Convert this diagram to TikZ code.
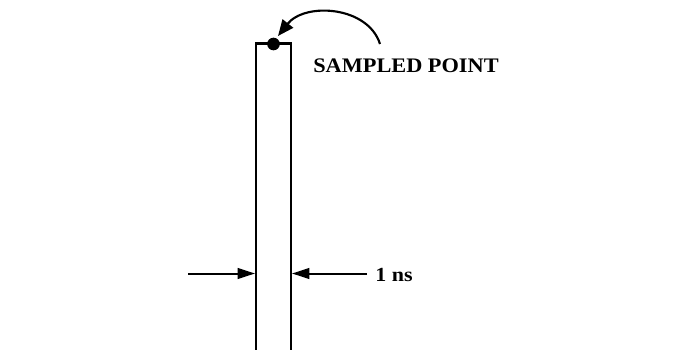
\documentclass[tikz,border=0pt]{standalone}
\usepackage{fontspec}
\setmainfont{Liberation Serif}
\usetikzlibrary{arrows.meta}
\begin{document}
\begin{tikzpicture}[x=0.75pt,y=-0.75pt,
  wire/.style={line width=1.7pt},
  dimarrow/.style={line width=1.5pt,-{Triangle[length=13pt,width=8pt]}},
  lbl/.style={inner sep=0pt,anchor=west,font=\bfseries}]
\useasboundingbox (0,0) rectangle (683,350);
\coordinate (bl) at (256,350);
\coordinate (tl) at (256,43.5);
\coordinate (tr) at (291,43.5);
\coordinate (br) at (291,350);
\draw[wire] (bl) -- (tl) -- (tr) -- (br);
\node[circle,fill=black,inner sep=0pt,minimum size=9.5pt] (dot) at (273.5,44) {};
\node[lbl] (sp) at (313,66) {\fontsize{15.5pt}{18pt}\selectfont\scalebox{1.08}[1]{SAMPLED POINT}};
\coordinate (arcstart) at (380,44);
\coordinate (arctip) at (278,36);
\draw[line width=1.6pt,-{Triangle[length=12pt,width=10pt]}] (arcstart) .. controls (368,6) and (305,2) .. (arctip);
\coordinate (la) at (188,273.5);
\coordinate (lt) at (255,273.5);
\coordinate (ra) at (367,273.5);
\coordinate (rt) at (292,273.5);
\draw[dimarrow] (la) -- (lt);
\draw[dimarrow] (ra) -- (rt);
\node[lbl] (ns) at (375,275) {\fontsize{15pt}{18pt}\selectfont\scalebox{1.1}[1]{1 ns}};
\end{tikzpicture}
\end{document}
